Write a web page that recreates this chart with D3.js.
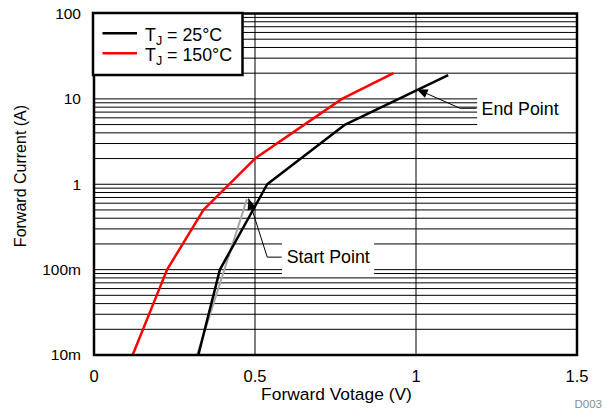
<!DOCTYPE html>
<html>
<head>
<meta charset="utf-8">
<script src="https://cdn.jsdelivr.net/npm/d3@7"></script>
<style>
  html, body { margin: 0; padding: 0; background: #fff; }
  svg { display: block; font-family: "Liberation Sans", Arial, sans-serif; }
</style>
</head>
<body>
<svg id="chart" width="607" height="410"></svg>
<script>
// ---- Data ----
const seriesNames = ["25°C", "150°C"];
const tj25V = [0.324, 0.391, 0.538, 0.78, 1.1];
const tj25I = [0.01, 0.1, 1, 5, 19];
const tj150V = [0.12, 0.227, 0.34, 0.5, 0.77, 0.93];
const tj150I = [0.01, 0.1, 0.5, 2, 10, 20];
const startLineV = [0.32, 0.475];
const startLineI = [0.01, 0.67];
const xTicks = [0, 0.5, 1, 1.5];
const xTickLabels = ["0", "0.5", "1", "1.5"];
const yTicks = [0.01, 0.1, 1, 10, 100];
const yTickLabels = ["10m", "100m", "1", "10", "100"];
// annotations: tip point, elbow point, horizontal end, label box (V0, V1, I0, I1)
const endPointAnn = { label: "End Point", tip: [1.002, 13], elbow: [1.137, 7.76], endV: 1.188, box: [1.19, 1.5, 10.8, 4.45] };
const startPointAnn = { label: "Start Point", tip: [0.48, 0.68], elbow: [0.538, 0.14], endV: 0.583, box: [0.584, 0.87, 0.205, 0.0843] };

// ---- Layout ----
const svg = d3.select("#chart");
const L = 94, R = 577, T = 13.5, B = 355;
const x = d3.scaleLinear().domain([0, 1.5]).range([L, R]);
const y = d3.scaleLog().domain([0.01, 100]).range([B, T]);

svg.append("defs").append("clipPath").attr("id", "plotclip")
  .append("rect").attr("x", L).attr("y", T).attr("width", R - L).attr("height", B - T);

// grid
const grid = svg.append("g");
grid.selectAll("line.h").data(y.ticks()).enter().append("line")
  .attr("x1", L).attr("x2", R).attr("y1", d => y(d)).attr("y2", d => y(d))
  .attr("stroke", "#000").attr("stroke-width", 1);
grid.selectAll("line.v").data([0.5, 1]).enter().append("line")
  .attr("y1", T).attr("y2", B).attr("x1", d => x(d)).attr("x2", d => x(d))
  .attr("stroke", "#000").attr("stroke-width", 1);

// annotation label boxes (white, hide grid)
[endPointAnn, startPointAnn].forEach(a => {
  svg.append("rect")
    .attr("x", x(a.box[0])).attr("width", x(a.box[1]) - x(a.box[0]))
    .attr("y", y(a.box[2])).attr("height", y(a.box[3]) - y(a.box[2]))
    .attr("fill", "#fff");
});

// curves
const line = d3.line().x(d => x(d[0])).y(d => y(d[1]));
const plot = svg.append("g").attr("clip-path", "url(#plotclip)");
plot.append("path").datum(d3.zip(startLineV, startLineI)).attr("d", line)
  .attr("fill", "none").attr("stroke", "#a6a6a6").attr("stroke-width", 2);
plot.append("path").datum(d3.zip(tj25V, tj25I)).attr("d", line)
  .attr("fill", "none").attr("stroke", "#000").attr("stroke-width", 2.5).attr("stroke-linejoin", "round");
plot.append("path").datum(d3.zip(tj150V, tj150I)).attr("d", line)
  .attr("fill", "none").attr("stroke", "#ff0000").attr("stroke-width", 2.5).attr("stroke-linejoin", "round");

// annotations
[endPointAnn, startPointAnn].forEach(a => {
  const tx = x(a.tip[0]), ty = y(a.tip[1]);
  const ex = x(a.elbow[0]), ey = y(a.elbow[1]);
  const hx = x(a.endV);
  svg.append("polyline")
    .attr("points", `${tx},${ty} ${ex},${ey} ${hx},${ey}`)
    .attr("fill", "none").attr("stroke", "#000").attr("stroke-width", 1);
  const dx = ex - tx, dy = ey - ty, len = Math.hypot(dx, dy);
  const ux = dx / len, uy = dy / len;
  const al = 11, aw = 4.5;
  const bx = tx + ux * al, by = ty + uy * al;
  svg.append("polygon")
    .attr("points", `${tx},${ty} ${bx - uy * aw},${by + ux * aw} ${bx + uy * aw},${by - ux * aw}`)
    .attr("fill", "#000");
  svg.append("text").attr("x", hx + 5).attr("y", ey).attr("dy", "0.35em")
    .attr("font-size", 17.8).attr("fill", "#000").text(a.label);
});

// frame
svg.append("rect").attr("x", L).attr("y", T).attr("width", R - L).attr("height", B - T)
  .attr("fill", "none").attr("stroke", "#000").attr("stroke-width", 2.5);

// axes labels
svg.selectAll("text.xt").data(xTicks).enter().append("text")
  .attr("x", d => x(d)).attr("y", 382).attr("text-anchor", "middle")
  .attr("font-size", 16.5).attr("fill", "#000").text((d, i) => xTickLabels[i]);
svg.selectAll("text.yt").data(yTicks).enter().append("text")
  .attr("x", 81).attr("y", d => y(d)).attr("dy", "0.35em").attr("text-anchor", "end")
  .attr("font-size", 15.5).attr("fill", "#000").text((d, i) => yTickLabels[i]);

svg.append("text").attr("x", 336.5).attr("y", 400).attr("text-anchor", "middle")
  .attr("font-size", 17.4).attr("fill", "#000").text("Forward Votage (V)");
svg.append("text").attr("transform", "translate(26,176) rotate(-90)").attr("text-anchor", "middle")
  .attr("font-size", 16).attr("fill", "#000").text("Forward Current (A)");

svg.append("text").attr("x", 602).attr("y", 408).attr("text-anchor", "end")
  .attr("font-size", 11.5).attr("fill", "#8c8c8c").text("D003");

// legend
const lg = svg.append("g");
lg.append("rect").attr("x", 93).attr("y", 13).attr("width", 149.5).attr("height", 62)
  .attr("fill", "#fff").attr("stroke", "#000").attr("stroke-width", 2.5);
const legColors = ["#000", "#ff0000"];
seriesNames.forEach((name, i) => {
  const ly = 33.3 + i * 20;
  lg.append("line").attr("x1", 102.5).attr("x2", 137).attr("y1", ly).attr("y2", ly)
    .attr("stroke", legColors[i]).attr("stroke-width", 2.5);
  const t = lg.append("text").attr("x", 145).attr("y", ly + 7.5).attr("font-size", 17.8).attr("fill", "#000");
  t.append("tspan").text("T");
  t.append("tspan").attr("font-size", 12.5).attr("dy", 4).text("J");
  t.append("tspan").attr("dy", -4).text(" = " + name);
});
</script>
</body>
</html>
